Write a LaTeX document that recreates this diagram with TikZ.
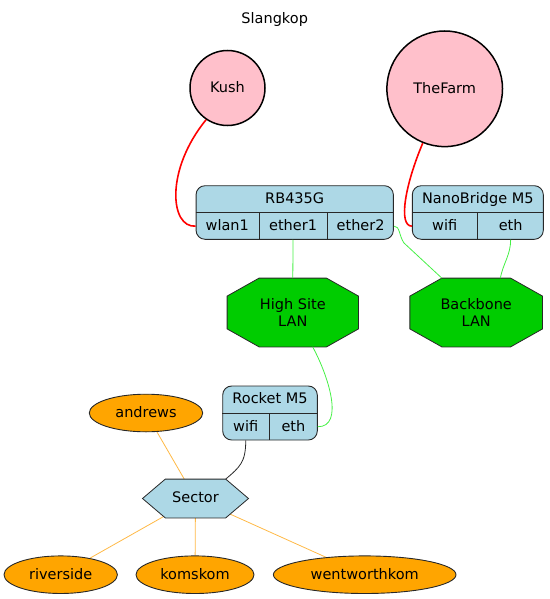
\documentclass[tikz,border=0pt]{standalone}
\usepackage{fontspec}
\setmainfont{DejaVu Sans}
\usetikzlibrary{positioning,calc,backgrounds,shapes.geometric}
\definecolor{sitecolor}{RGB}{255,192,203}
\definecolor{devcolor}{RGB}{173,216,230}
\definecolor{lancolor}{RGB}{0,204,0}
\definecolor{clientcolor}{RGB}{255,165,0}
\definecolor{wifilink}{RGB}{255,0,0}
\definecolor{lanlink}{RGB}{70,240,70}
\definecolor{clientlink}{RGB}{255,185,70}
\definecolor{bordercolor}{RGB}{40,40,40}

\begin{document}
\begin{tikzpicture}[
    x=1pt, y=-1pt,
    every node/.style={font=\fontsize{14.5}{16.7}\selectfont, text height=11pt, text depth=2.2pt, inner sep=0pt},
    site/.style={circle, draw, line width=1.5pt, fill=sitecolor},
    device/.style={rectangle, draw=bordercolor, line width=0.9pt, rounded corners=9pt, fill=devcolor, minimum height=53.6pt},
    field/.style={rectangle, minimum height=26.8pt},
    divider/.style={draw=bordercolor, line width=0.9pt},
    lan/.style={rectangle, minimum width=#1, minimum height=68.4pt, align=center, text height=, text depth=},
    lanshape/.style={draw=bordercolor, line width=0.8pt, fill=lancolor},
    sectorshape/.style={draw=bordercolor, line width=0.8pt, fill=devcolor},
    client/.style={ellipse, draw=bordercolor, line width=0.9pt, fill=clientcolor, minimum height=37.6pt},
    wifi/.style={wifilink, line width=1.6pt},
    wire/.style={lanlink, line width=0.8pt},
    feed/.style={clientlink, line width=0.8pt},
    uplink/.style={bordercolor, line width=0.8pt}
]
    \useasboundingbox (0,0) rectangle (549,599);

    % Title
    \node (title) at (274.7,18.9) {Slangkop};

    % Sites
    \node[site, minimum size=75pt] (kush) at (227.5,88) {Kush};
    \node[site, minimum size=115.6pt] (thefarm) at (444.7,88.8) {TheFarm};

    % RB435G
    \node[device, minimum width=197.3pt] (rb) at (294.7,212.5) {};
    \node[field, minimum width=197.3pt, anchor=north] (rbname) at (rb.north) {RB435G};
    \node[field, minimum width=63pt, anchor=south west] (wlan1) at (rb.south west) {wlan1};
    \node[field, minimum width=67.7pt, right=0pt of wlan1] (ether1) {ether1};
    \node[field, minimum width=66.6pt, right=0pt of ether1] (ether2) {ether2};
    \draw[divider] (rb.west) -- (rb.east)
        (wlan1.north east) -- (wlan1.south east)
        (ether1.north east) -- (ether1.south east);

    % NanoBridge M5
    \node[device, minimum width=131pt] (nb) at (477.8,212.5) {};
    \node[field, minimum width=131pt, anchor=north] (nbname) at (nb.north) {NanoBridge M5};
    \node[field, minimum width=65.4pt, anchor=south west] (nbwifi) at (nb.south west) {wifi};
    \node[field, minimum width=65.6pt, right=0pt of nbwifi] (nbeth) {eth};
    \draw[divider] (nb.west) -- (nb.east)
        (nbwifi.north east) -- (nbwifi.south east);

    % LANs
    \node[lan=131pt] (highsite) at (292.8,312.5) {High Site\\LAN};
    \node[lan=132.3pt] (backbone) at (476.2,312.5) {Backbone\\LAN};

    % Rocket M5
    \node[device, minimum width=94.6pt, minimum height=54pt] (rocket) at (270,413) {};
    \node[field, minimum width=94.6pt, minimum height=27pt, anchor=north] (rname) at (rocket.north) {Rocket M5};
    \node[field, minimum width=46.6pt, minimum height=27pt, anchor=south west] (rwifi) at (rocket.south west) {wifi};
    \node[field, minimum width=48pt, minimum height=27pt, right=0pt of rwifi] (reth) {eth};
    \draw[divider] (rocket.west) -- (rocket.east)
        (rwifi.north east) -- (rwifi.south east);

    % Sector and clients
    \node[rectangle, minimum width=60pt, minimum height=38.4pt] (sector) at (195.5,498.5) {Sector};
    \node[client, minimum width=113.4pt] (andrews) at (146,413) {andrews};
    \node[client, minimum width=113.4pt] (riverside) at (60.7,574.7) {riverside};
    \node[client, minimum width=118pt] (komskom) at (195,574.7) {komskom};
    \node[client, minimum width=182.6pt] (wentworthkom) at (364.7,574.7) {wentworthkom};

    % Shapes behind the texts
    \begin{scope}[on background layer]
        \foreach \n in {highsite,backbone}
            \draw[lanshape] ($(\n.north west)+(32,0)$) -- ($(\n.north east)+(-32,0)$)
                -- ($(\n.north east)+(0,18)$) -- ($(\n.south east)+(0,-18)$)
                -- ($(\n.south east)+(-32,0)$) -- ($(\n.south west)+(32,0)$)
                -- ($(\n.south west)+(0,-18)$) -- ($(\n.north west)+(0,18)$) -- cycle;
        \draw[feed] (andrews) -- (sector.center);
        \draw[feed] (sector.center) -- (riverside);
        \draw[feed] (sector.center) -- (komskom);
        \draw[feed] (sector.center) -- (wentworthkom);
        \draw[sectorshape] (sector.north west) -- (sector.north east)
            -- ($(sector.east)+(22.8,0)$) -- (sector.south east)
            -- (sector.south west) -- ($(sector.west)+(-22.8,0)$) -- cycle;
    \end{scope}

    % Links
    \draw[wifi] (kush.236) .. controls (165,170) and (170,228) .. (wlan1.west);
    \draw[wifi] (thefarm.248) .. controls (405,185) and (398,226) .. (nbwifi.west);
    \draw[wire] (ether1.south) -- (highsite.north);
    \draw[wire] (ether2.east) .. controls (400,226) and (399,236) .. (404,243) -- (backbone.135);
    \draw[wire] (nbeth.south) .. controls +(0,15) and +(3,-15) .. (backbone.55);
    \draw[wire] (highsite.-60) .. controls (328,375) and (345,427) .. (reth.east);
    \draw[uplink] (rwifi.south) .. controls +(0,22) and +(14,-12) .. (sector.north east);
\end{tikzpicture}
\end{document}
